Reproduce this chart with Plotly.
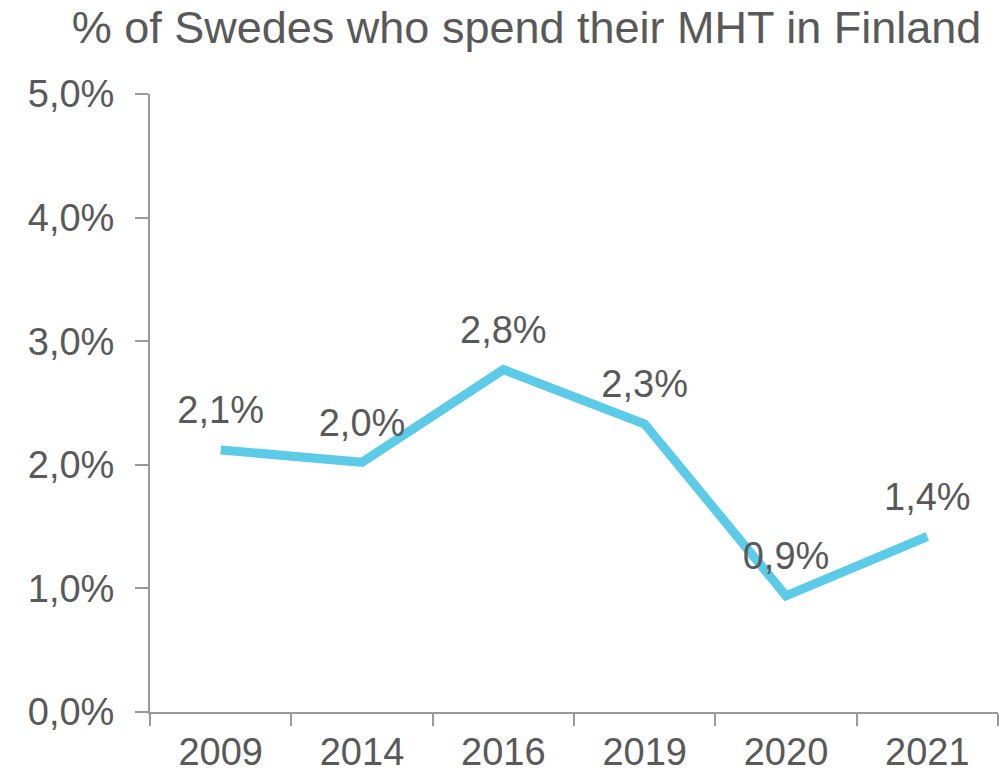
import plotly.graph_objects as go

years = ["2009", "2014", "2016", "2019", "2020", "2021"]
share_pct = [2.12, 2.02, 2.77, 2.33, 0.94, 1.42]
y_ticks_pct = [0, 1, 2, 3, 4, 5]

title_text = "% of Swedes who spend their MHT in Finland"
font_family = "Arial, Liberation Sans, sans-serif"
text_color = "#595959"
axis_color = "#9a9a9a"
line_color = "#5BCBE8"

y_vals = [v / 100 for v in share_pct]

fig = go.Figure()
fig.add_trace(go.Scatter(
    x=years, y=y_vals, mode="lines",
    line=dict(color=line_color, width=9),
    hoverinfo="skip", showlegend=False,
))
fig.add_trace(go.Scatter(
    x=years, y=y_vals, mode="markers+text",
    marker=dict(size=26, color="rgba(0,0,0,0)"),
    texttemplate="%{y:.1%}", textposition="top center",
    textfont=dict(size=38, color=text_color, family=font_family),
    hoverinfo="skip", showlegend=False, cliponaxis=False,
))

fig.update_layout(
    width=1001, height=772,
    margin=dict(l=150, r=3, t=94, b=60, autoexpand=False),
    paper_bgcolor="white", plot_bgcolor="white",
    separators=",.",
    font=dict(family=font_family, color=text_color),
    title=dict(
        text=title_text, x=0.526, xanchor="center", xref="container",
        y=0.965, yanchor="middle", yref="container",
        font=dict(size=45, color=text_color, family=font_family),
    ),
    showlegend=False,
)

fig.update_xaxes(
    type="category", range=[-0.5, 5.5], automargin=False,
    showline=True, linecolor=axis_color, linewidth=2,
    ticks="outside", tickson="boundaries", ticklen=12, tickcolor=axis_color, tickwidth=2,
    ticklabelstandoff=5,
    showgrid=False, zeroline=False,
    tickfont=dict(size=38, color=text_color, family=font_family),
)
fig.update_yaxes(
    range=[0, 0.05], tickvals=[t / 100 for t in y_ticks_pct], tickformat=".1%",
    automargin=False,
    showline=True, linecolor=axis_color, linewidth=2,
    ticks="outside", ticklen=13, tickcolor=axis_color, tickwidth=2,
    ticklabelstandoff=13,
    showgrid=False, zeroline=False,
    tickfont=dict(size=38, color=text_color, family=font_family),
)

fig.write_html(
    "out.html",
    config={"displayModeBar": False},
    post_script="document.body.style.margin='0';document.body.style.overflow='hidden';",
)
